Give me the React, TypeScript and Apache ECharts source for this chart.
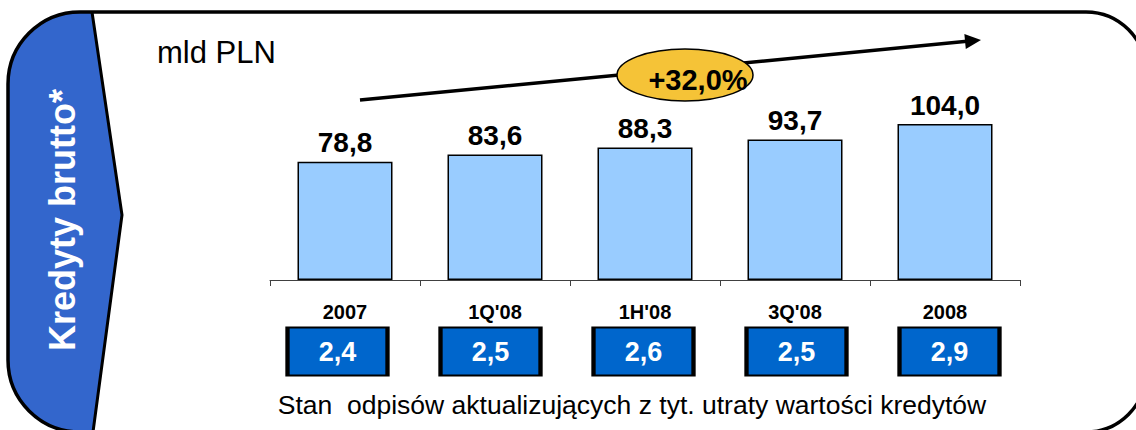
import React, { useEffect, useRef } from "react";
import * as echarts from "echarts";

const categories = ["2007", "1Q'08", "1H'08", "3Q'08", "2008"];
const loans = [78.8, 83.6, 88.3, 93.7, 104.0];
const provisions = [2.4, 2.5, 2.6, 2.5, 2.9];
const growthLabel = "+32,0%";
const unitLabel = "mld PLN";
const sideTitle = "Kredyty brutto*";
const footerText = "Stan  odpisów aktualizujących z tyt. utraty wartości kredytów";

const FONT = "'Liberation Sans', Arial, sans-serif";
const fmt = (v: number) => v.toFixed(1).replace(".", ",");

function panelPoints(): number[][] {
  const pts: number[][] = [];
  const left = 8, top = 12, bottom = 432, r = 72;
  pts.push([92, top], [122, 215], [93, bottom], [left + r, bottom]);
  for (let i = 1; i <= 12; i++) {
    const a = Math.PI / 2 + (i / 12) * (Math.PI / 2);
    pts.push([left + r + r * Math.cos(a), bottom - r + r * Math.sin(a)]);
  }
  pts.push([left, top + r]);
  for (let i = 1; i <= 12; i++) {
    const a = Math.PI + (i / 12) * (Math.PI / 2);
    pts.push([left + r + r * Math.cos(a), top + r + r * Math.sin(a)]);
  }
  return pts;
}

export default function App() {
  const ref = useRef<HTMLDivElement>(null);
  useEffect(() => {
    if (!ref.current) return;
    const chart = echarts.init(ref.current, undefined, { renderer: "svg" });
    const tip = [981, 40];
    const start = [360, 100];
    const dx = tip[0] - start[0], dy = tip[1] - start[1];
    const len = Math.sqrt(dx * dx + dy * dy);
    const ux = dx / len, uy = dy / len;
    const bx = tip[0] - 16 * ux, by = tip[1] - 16 * uy;
    const px = -uy * 7.5, py = ux * 7.5;

    chart.setOption({
      animation: false,
      backgroundColor: "#ffffff",
      textStyle: { fontFamily: FONT },
      grid: [
        { left: 270, top: 115, width: 750, height: 165 },
        { left: 261, top: 326, width: 765, height: 51 },
      ],
      xAxis: [
        {
          type: "category",
          gridIndex: 0,
          data: categories,
          axisLine: { lineStyle: { color: "#404040", width: 1 } },
          axisTick: { show: true, length: 6, lineStyle: { color: "#404040" } },
          axisLabel: { margin: 22, fontSize: 20, fontWeight: "bold", color: "#000", fontFamily: FONT },
        },
        { type: "category", gridIndex: 1, data: categories, show: false },
      ],
      yAxis: [
        { type: "value", gridIndex: 0, min: 0, max: 110, show: false },
        { type: "value", gridIndex: 1, min: 0, max: 1, show: false },
      ],
      series: [
        {
          type: "bar",
          xAxisIndex: 0,
          yAxisIndex: 0,
          data: loans,
          barWidth: 95,
          itemStyle: { color: "#99CCFF", borderColor: "#000", borderWidth: 1.5 },
          label: {
            show: true,
            position: "top",
            distance: 5,
            formatter: (p: any) => fmt(p.value),
            fontSize: 28,
            fontWeight: "bold",
            color: "#000",
            fontFamily: FONT,
          },
        },
        {
          type: "scatter",
          xAxisIndex: 1,
          yAxisIndex: 1,
          data: provisions.map((v, i) => [i, 0.5, v]),
          symbol: "rect",
          symbolSize: [100, 48],
          itemStyle: { color: "#0066CC", borderColor: "#000", borderWidth: 3, opacity: 1 },
          label: {
            show: true,
            position: "inside",
            formatter: (p: any) => fmt(provisions[p.dataIndex]),
            fontSize: 27,
            fontWeight: "bold",
            color: "#fff",
            fontFamily: FONT,
          },
        },
      ],
      graphic: [
        {
          type: "polygon",
          shape: { points: panelPoints() },
          style: { fill: "#3366CC" },
          z: 1,
        },
        {
          type: "polyline",
          shape: { points: [[92, 12], [122, 215], [93, 432]] },
          style: { stroke: "#000", lineWidth: 3, fill: "none" },
          z: 2,
        },
        {
          type: "rect",
          shape: { x: 8, y: 12, width: 1138, height: 420, r: [72, 60, 60, 72] },
          style: { fill: "none", stroke: "#000", lineWidth: 3.5 },
          z: 3,
        },
        {
          type: "text",
          x: 62,
          y: 220,
          rotation: Math.PI / 2,
          style: {
            text: sideTitle,
            fill: "#fff",
            font: `bold 36px ${FONT}`,
            align: "center",
            verticalAlign: "middle",
          },
          z: 4,
        },
        {
          type: "text",
          x: 157,
          y: 52,
          style: {
            text: unitLabel,
            fill: "#000",
            font: `31px ${FONT}`,
            align: "left",
            verticalAlign: "middle",
          },
          z: 4,
        },
        {
          type: "line",
          shape: { x1: start[0], y1: start[1], x2: bx + 2 * ux, y2: by + 2 * uy },
          style: { stroke: "#000", lineWidth: 3.5 },
          z: 4,
        },
        {
          type: "polygon",
          shape: { points: [[tip[0], tip[1]], [bx + px, by + py], [bx - px, by - py]] },
          style: { fill: "#000" },
          z: 4,
        },
        {
          type: "ellipse",
          shape: { cx: 685, cy: 75, rx: 68, ry: 26 },
          style: { fill: "#F5C337", stroke: "#000", lineWidth: 1.5 },
          z: 5,
        },
        {
          type: "text",
          x: 698,
          y: 80,
          style: {
            text: growthLabel,
            fill: "#000",
            font: `bold 29px ${FONT}`,
            align: "center",
            verticalAlign: "middle",
          },
          z: 6,
        },
        {
          type: "text",
          x: 632,
          y: 405,
          style: {
            text: footerText,
            fill: "#000",
            font: `26.5px ${FONT}`,
            align: "center",
            verticalAlign: "middle",
          },
          z: 4,
        },
      ],
    });
    return () => chart.dispose();
  }, []);
  return (
    <div
      ref={ref}
      style={{ position: "fixed", left: 0, top: 0, width: 1136, height: 430 }}
    />
  );
}
